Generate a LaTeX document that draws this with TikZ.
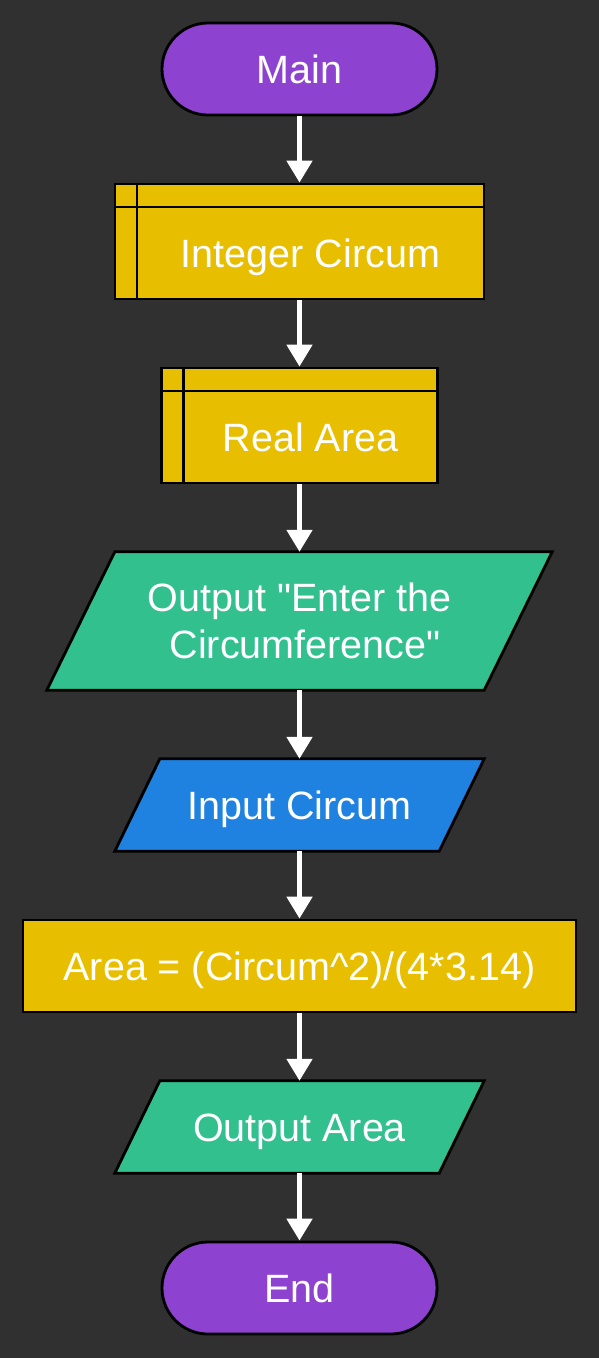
\documentclass[tikz,border=0pt]{standalone}
\usepackage{fontspec}
\setmainfont{Liberation Sans}
\usetikzlibrary{backgrounds,arrows.meta}
\definecolor{bgdark}{HTML}{303030}
\definecolor{termpurple}{HTML}{8E42D0}
\definecolor{procyellow}{HTML}{E8BE00}
\definecolor{outgreen}{HTML}{32C08F}
\definecolor{inblue}{HTML}{1F82E0}
\begin{document}
\begin{tikzpicture}[x=1pt,y=-1pt,
  every node/.style={font=\fontsize{39.5}{47}\selectfont,text=white,text height=28.3pt,text depth=0pt},
  term/.style={draw,line width=2.8pt,fill=termpurple,rounded corners=46pt,minimum width=275pt,minimum height=92pt},
  decl/.style={draw,line width=2.8pt,fill=procyellow,minimum height=115pt,path picture={
    \draw[line width=2.8pt] ([xshift=22pt]path picture bounding box.north west) -- ([xshift=22pt]path picture bounding box.south west);
    \draw[line width=2.8pt] ([yshift=-23pt]path picture bounding box.north west) -- ([yshift=-23pt]path picture bounding box.north east);}},
  io/.style={align=center,inner sep=0pt},
  para/.style={draw=black,line width=2.8pt},
  proc/.style={draw,line width=2.8pt,fill=procyellow,minimum width=553pt,minimum height=92pt},
  flow/.style={draw=white,line width=5pt,-{Triangle[length=22pt,width=25pt]}}]
\useasboundingbox (0,0) rectangle (599,1358);
\node[term] (main) at (299.5,69) {Main};
\node[decl,minimum width=369pt,label={[xshift=11pt,yshift=-11.5pt]center:Integer Circum}] (circ) at (299.5,241.5) {};
\node[decl,minimum width=276pt,label={[xshift=11pt,yshift=-11.5pt]center:Real Area}] (area) at (299.5,425.5) {};
\node[io,minimum width=505pt,minimum height=138pt,text height=75.3pt] (prompt) at (299.5,621) {Output \textquotedbl Enter the\\ \hspace*{0.28em}Circumference\textquotedbl};
\node[io,minimum width=369pt,minimum height=92pt] (inp) at (299.5,805) {Input Circum};
\node[proc] (calc) at (299.5,966) {Area = (Circum\textasciicircum 2)/(4*3.14)};
\node[io,minimum width=369pt,minimum height=92pt] (outa) at (299.5,1127) {Output Area};
\node[term] (fin) at (299.5,1288) {End};
\begin{scope}[on background layer]
\fill[bgdark] (0,0) rectangle (599,1358);
% parallelograms behind the io texts
\filldraw[para,fill=outgreen] (prompt.south west) -- ([xshift=68pt]prompt.north west) -- (prompt.north east) -- ([xshift=-68pt]prompt.south east) -- cycle;
\filldraw[para,fill=inblue] (inp.south west) -- ([xshift=45pt]inp.north west) -- (inp.north east) -- ([xshift=-45pt]inp.south east) -- cycle;
\filldraw[para,fill=outgreen] (outa.south west) -- ([xshift=45pt]outa.north west) -- (outa.north east) -- ([xshift=-45pt]outa.south east) -- cycle;
\end{scope}
\draw[flow] (main) -- (circ);
\draw[flow] (circ) -- (area);
\draw[flow] (area) -- (prompt);
\draw[flow] (prompt) -- (inp);
\draw[flow] (inp) -- (calc);
\draw[flow] (calc) -- (outa);
\draw[flow] (outa) -- (fin);
\end{tikzpicture}
\end{document}
